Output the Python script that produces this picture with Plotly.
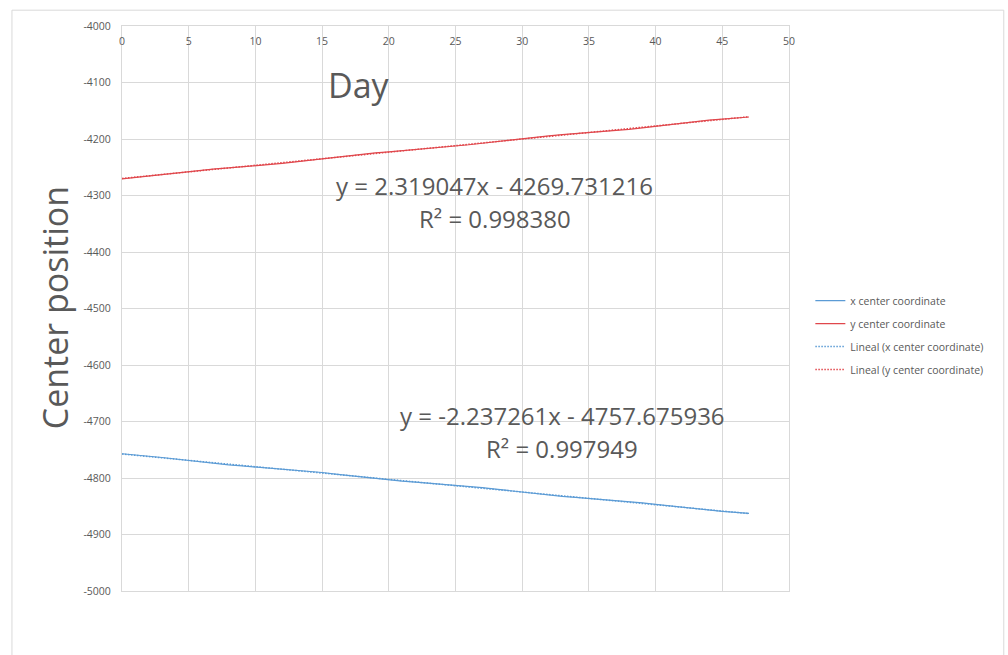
import numpy as np
import plotly.graph_objects as go

# measurement days
days = list(range(48))

# center coordinates
x_center = [-4757.1, -4759.0, -4761.2, -4763.7, -4766.4, -4769.2, -4771.9, -4774.4,
            -4776.8, -4778.7, -4780.5, -4782.1, -4783.8, -4785.7, -4787.8, -4790.3,
            -4793.1, -4795.8, -4798.5, -4801.2, -4803.6, -4805.7, -4807.4, -4809.1,
            -4810.9, -4812.7, -4814.7, -4817.1, -4819.7, -4822.5, -4825.2, -4827.9,
            -4830.5, -4832.6, -4834.4, -4836.2, -4837.9, -4839.7, -4841.6, -4843.9,
            -4846.6, -4849.3, -4852.0, -4854.7, -4857.1, -4859.1, -4860.9, -4862.6]
y_center = [-4270.5, -4267.9, -4265.2, -4262.4, -4259.6, -4256.9, -4254.8, -4252.9,
            -4251.1, -4249.3, -4247.4, -4245.5, -4243.3, -4240.6, -4237.8, -4234.9,
            -4232.1, -4229.4, -4226.9, -4224.7, -4222.7, -4220.8, -4219.0, -4217.1,
            -4215.1, -4212.8, -4210.2, -4207.5, -4204.7, -4201.9, -4199.2, -4196.5,
            -4194.3, -4192.4, -4190.6, -4188.8, -4186.9, -4185.0, -4182.8, -4180.2,
            -4177.4, -4174.5, -4171.7, -4169.0, -4166.6, -4164.7, -4162.8, -4161.1]

series_names = ["x center coordinate", "y center coordinate"]
trend_names = ["Lineal (x center coordinate)", "Lineal (y center coordinate)"]
eq_lines = [["y = -2.237261x - 4757.675936", "R² = 0.997949"],
            ["y = 2.319047x - 4269.731216", "R² = 0.998380"]]

x_ticks = list(range(0, 51, 5))
y_ticks = list(range(-5000, -3999, 100))

BLUE = "#5b9bd5"
RED = "#e0474c"
GRID = "#d9d9d9"
TXT = "#595959"
FONT = "Open Sans"

fig = go.Figure()

for i, (vals, col) in enumerate([(x_center, BLUE), (y_center, RED)]):
    fig.add_trace(go.Scatter(
        x=days, y=vals, mode="lines", name=series_names[i],
        line=dict(color=col, width=1.2), legendgroup=f"s{i}",
    ))

for i, (vals, col) in enumerate([(x_center, BLUE), (y_center, RED)]):
    # linear trendline like Excel's "Lineal"
    m, b = np.polyfit(days, vals, 1)
    xs = np.array(days, dtype=float)
    fig.add_trace(go.Scatter(
        x=xs, y=m * xs + b, mode="lines", name=trend_names[i],
        line=dict(color=col, width=1.5, dash="1.5px,1.5px"), legendgroup=f"t{i}",
    ))

# trendline equations
eq_pos = [(0.660, [0.310, 0.253]), (0.559, [0.717, 0.660])]
for (ex, eys), lines in zip(eq_pos, eq_lines):
    for ey, txt in zip(eys, lines):
        fig.add_annotation(x=ex, y=ey, xref="paper", yref="paper", text=txt,
                           xanchor="center", yanchor="middle", showarrow=False,
                           font=dict(size=24, color=TXT, family=FONT))

# axis titles placed like the original
fig.add_annotation(x=0.355, y=0.896, xref="paper", yref="paper", text="Day",
                   xanchor="center", yanchor="middle", showarrow=False,
                   font=dict(size=34, color=TXT, family=FONT))
fig.add_annotation(x=-0.100, y=0.501, xref="paper", yref="paper", text="Center position",
                   xanchor="center", yanchor="middle", textangle=-90, showarrow=False,
                   font=dict(size=34, color=TXT, family=FONT))

# chart area border
fig.add_shape(type="rect", xref="paper", yref="paper", x0=-0.165, x1=1.322, y0=-0.2, y1=1.028,
              line=dict(color=GRID, width=1), fillcolor="rgba(0,0,0,0)")

fig.update_layout(
    width=1008, height=655,
    margin=dict(l=122, r=219, t=26, b=64),
    paper_bgcolor="white", plot_bgcolor="white",
    font=dict(family=FONT, color=TXT),
    legend=dict(x=1.032, y=0.453, yanchor="middle", xanchor="left",
                traceorder="grouped", tracegroupgap=4,
                font=dict(size=10.5, color=TXT, family=FONT)),
)
fig.update_xaxes(range=[0, 50], tickvals=x_ticks, ticktext=[str(v) for v in x_ticks],
                 side="top", ticklabelposition="inside", ticklabeloverflow="allow",
                 ticklabelstandoff=11,
                 showgrid=True, gridcolor=GRID, showline=True, linecolor=GRID,
                 mirror=True, zeroline=False, ticks="",
                 tickfont=dict(size=10.5, color=TXT, family=FONT))
fig.update_yaxes(range=[-5000, -4000], tickvals=y_ticks, ticktext=[str(v) for v in y_ticks],
                 ticklabeloverflow="allow",
                 showgrid=True, gridcolor=GRID, showline=True, linecolor=GRID,
                 mirror=True, zeroline=False, ticks="",
                 ticklabelstandoff=8, tickfont=dict(size=10.5, color=TXT, family=FONT))

# drop the page margin so the figure fills the window exactly
fig.write_html("out.html", config={"displayModeBar": False},
               post_script="document.body.style.margin='0';")
